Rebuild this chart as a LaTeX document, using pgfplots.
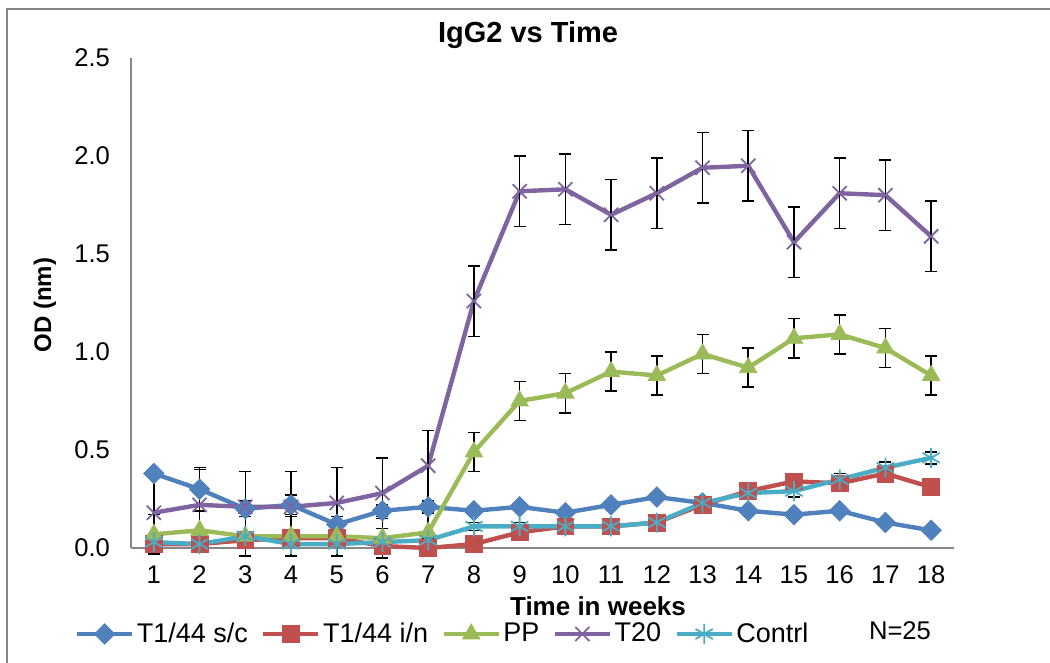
\documentclass[border=0pt]{standalone}
\usepackage{pgfplots}
\pgfplotsset{compat=1.18}
\usepackage{fontspec}
\setmainfont{Liberation Sans}
\definecolor{cblue}{HTML}{4F81BD}
\definecolor{cred}{HTML}{C0504D}
\definecolor{cgreen}{HTML}{9BBB59}
\definecolor{cpurple}{HTML}{8064A2}
\definecolor{ccyan}{HTML}{4BACC6}
\definecolor{axisgray}{HTML}{868686}
\begin{document}
\begin{tikzpicture}
\useasboundingbox (-65.5pt,-57.5pt) rectangle (459.5pt,274pt);
\draw[axisgray, line width=0.6pt] (-62pt,-57.5pt) -- (-62pt,269.5pt) -- (459.5pt,269.5pt);
\begin{axis}[
  at={(0pt,0pt)}, anchor=south west,
  scale only axis, width=411.5pt, height=245pt,
  xmin=0.5, xmax=18.5, ymin=0, ymax=2.5,
  xtick={1,...,18}, ytick={0,0.5,1,1.5,2,2.5},
  /pgf/number format/assume math mode=true,
  tick label style={font=\fontsize{12.8}{14}\selectfont},
  y tick label style={/pgf/number format/fixed, /pgf/number format/fixed zerofill, /pgf/number format/precision=1, xshift=-7pt},
  x tick label style={yshift=-5.5pt},
  axis x line*=bottom, axis y line*=left,
  axis line style={draw=axisgray, line width=0.75pt, -},
  major tick length=0pt, tick style={draw=none},
  clip=false,
  legend columns=-1,
  legend style={at={(axis description cs:-0.068,-0.1755)}, anchor=west, draw=none, fill=none, inner sep=0pt, outer sep=0pt,
    font=\fontsize{13.5}{15}\selectfont, nodes={inner sep=1.2pt},
    /tikz/every even column/.append style={column sep=5.5pt}},
  legend image code/.code={\draw[#1, mark repeat=2, mark phase=2] plot coordinates {(0pt,0pt) (13.75pt,0pt) (27.5pt,0pt)};},
  every axis plot/.append style={line width=2.2pt},
  error bars/error bar style={black, line width=0.8pt, solid},
  error bars/error mark options={rotate=90, mark size=3pt, black, line width=0.8pt},
]
\addplot[cblue, mark=square*, mark size=3.6pt, mark options={rotate=45, fill=cblue, draw=cblue, line width=0.4pt},
  error bars/.cd, y dir=both, y explicit]
  table[x=x, y=y, y error=e] {
x y e
1 0.38 0.02
2 0.30 0.11
3 0.20 0.04
4 0.22 0.05
5 0.12 0.02
6 0.19 0.03
7 0.21 0.02
8 0.19 0.01
9 0.21 0.01
10 0.18 0.01
11 0.22 0.01
12 0.26 0.01
13 0.23 0.01
14 0.19 0.01
15 0.17 0.01
16 0.19 0.01
17 0.13 0.01
18 0.09 0.01
};
\addlegendentry{T1/44 s/c}
\addplot[cred, mark=square*, mark size=4.2pt, mark options={fill=cred, draw=cred, line width=0.4pt}]
  table[x=x, y=y] {
x y
1 0.02
2 0.02
3 0.04
4 0.05
5 0.05
6 0.01
7 0.00
8 0.02
9 0.08
10 0.11
11 0.11
12 0.13
13 0.22
14 0.29
15 0.34
16 0.33
17 0.38
18 0.31
};
\addlegendentry{T1/44 i/n}
\addplot[cgreen, mark=triangle*, mark size=5pt, mark options={fill=cgreen, draw=cgreen, line width=0.4pt},
  error bars/.cd, y dir=both, y explicit]
  table[x=x, y=y, y error=e] {
x y e
1 0.07 0.10
2 0.09 0.10
3 0.06 0.10
4 0.06 0.10
5 0.06 0.10
6 0.05 0.10
7 0.08 0.10
8 0.49 0.10
9 0.75 0.10
10 0.79 0.10
11 0.90 0.10
12 0.88 0.10
13 0.99 0.10
14 0.92 0.10
15 1.07 0.10
16 1.09 0.10
17 1.02 0.10
18 0.88 0.10
};
\addlegendentry{PP}
\addplot[cpurple, mark=x, mark size=5pt, mark options={draw=cpurple, line width=0.9pt},
  error bars/.cd, y dir=both, y explicit]
  table[x=x, y=y, y error=e] {
x y e
1 0.18 0.18
2 0.22 0.18
3 0.21 0.18
4 0.21 0.18
5 0.23 0.18
6 0.28 0.18
7 0.42 0.18
8 1.26 0.18
9 1.82 0.18
10 1.83 0.18
11 1.70 0.18
12 1.81 0.18
13 1.94 0.18
14 1.95 0.18
15 1.56 0.18
16 1.81 0.18
17 1.80 0.18
18 1.59 0.18
};
\addlegendentry{T20}
\addplot[ccyan, mark=asterisk, mark size=5pt, mark options={draw=ccyan, line width=0.9pt},
  error bars/.cd, y dir=both, y explicit]
  table[x=x, y=y, y error=e] {
x y e
1 0.03 0.01
2 0.02 0.01
3 0.06 0.01
4 0.02 0.01
5 0.02 0.01
6 0.03 0.01
7 0.04 0.01
8 0.11 0.02
9 0.11 0.02
10 0.11 0.01
11 0.11 0.01
12 0.13 0.01
13 0.23 0.02
14 0.28 0.02
15 0.29 0.03
16 0.35 0.03
17 0.41 0.03
18 0.46 0.03
};
\addlegendentry{Contrl}
\end{axis}
\node[font=\fontsize{14.5}{16}\selectfont\bfseries] at (198.5pt,256.5pt) {IgG2 vs Time};
\node[rotate=90, font=\fontsize{12}{14}\selectfont\bfseries] at (-43pt,121.5pt) {OD (nm)};
\node[font=\fontsize{13}{15}\selectfont\bfseries] at (233.5pt,-29pt) {Time in weeks};
\node[font=\fontsize{12.8}{14}\selectfont] at (384.5pt,-41.5pt) {N=25};
\end{tikzpicture}
\end{document}
